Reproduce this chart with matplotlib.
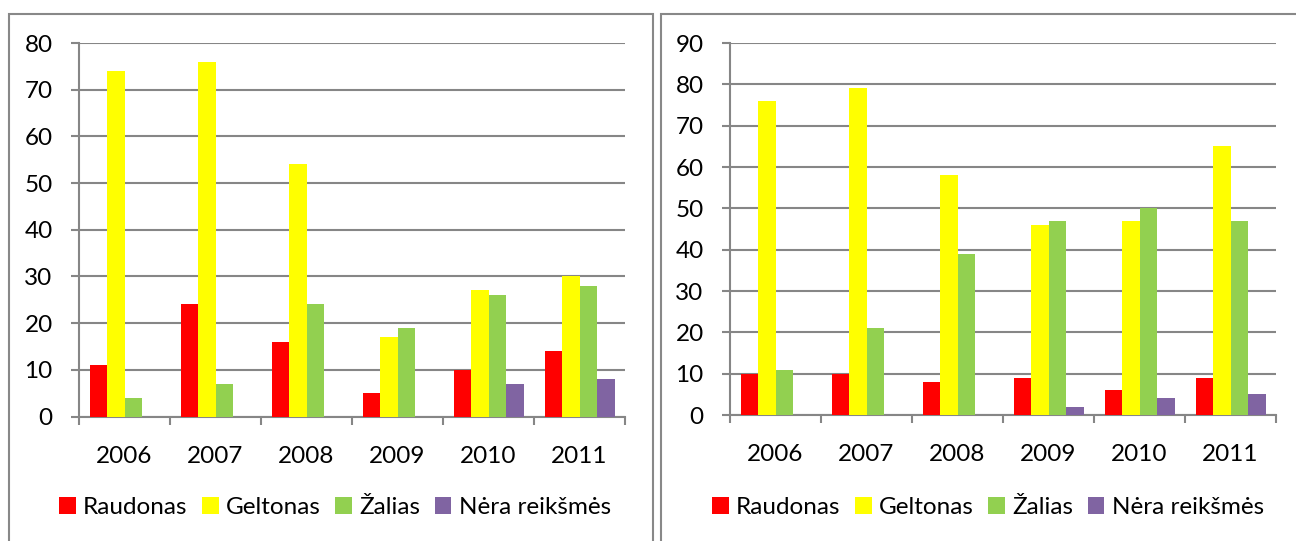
import matplotlib.pyplot as plt
from matplotlib.patches import Rectangle
import numpy as np

plt.rcParams['font.family'] = ['Lato', 'DejaVu Sans']

years = ['2006', '2007', '2008', '2009', '2010', '2011']
series_names = ['Raudonas', 'Geltonas', 'Žalias', 'Nėra reikšmės']
series_colors = ['#FF0000', '#FFFF00', '#92D050', '#8064A2']

# left chart
left_raudonas = [11, 24, 16, 5, 10, 14]
left_geltonas = [74, 76, 54, 17, 27, 30]
left_zalias = [4, 7, 24, 19, 26, 28]
left_nera = [0, 0, 0, 0, 7, 8]

# right chart
right_raudonas = [10, 10, 8, 9, 6, 9]
right_geltonas = [76, 79, 58, 46, 47, 65]
right_zalias = [11, 21, 39, 47, 50, 47]
right_nera = [0, 0, 0, 2, 4, 5]

GRID = '#868686'
FS = 17.5


def bar_chart(fig, rect, series, ymax, legend_x):
    ax = fig.add_axes(rect)
    x = np.arange(len(years))
    width = 1 / (len(series) + 1.2)
    offsets = (np.arange(len(series)) - (len(series) - 1) / 2) * width
    handles = []
    for vals, off, col, name in zip(series, offsets, series_colors, series_names):
        b = ax.bar(x + off, vals, width=width, color=col, label=name, zorder=3)
        handles.append(b)

    ax.set_xlim(-0.5, len(years) - 0.5)
    ax.set_ylim(0, ymax)
    ax.set_yticks(np.arange(0, ymax + 1, 10))
    ax.set_xticks(x)
    ax.set_xticklabels(years)
    ax.set_xticks(np.arange(-0.5, len(years)), minor=True)

    ax.yaxis.grid(True, color=GRID, linewidth=1.5, zorder=0)
    ax.set_axisbelow(True)
    for side in ['top', 'right']:
        ax.spines[side].set_visible(False)
    for side in ['left', 'bottom']:
        ax.spines[side].set_color(GRID)
        ax.spines[side].set_linewidth(1.5)

    ax.tick_params(axis='y', length=6, width=1.5, color=GRID, labelsize=FS, pad=13)
    ax.tick_params(axis='x', which='major', length=0, labelsize=FS, pad=21)
    ax.tick_params(axis='x', which='minor', length=6, width=1.5, color=GRID)

    fig.legend(handles, series_names, loc='center', bbox_to_anchor=(legend_x, 0.062),
               ncol=4, frameon=False, fontsize=FS, handlelength=0.68, handleheight=0.68,
               handletextpad=0.3, columnspacing=0.6)
    return ax


fig = plt.figure(figsize=(12.96, 5.41), dpi=100)

bar_chart(fig, [0.061, 0.2301, 0.4213, 0.6904],
          [left_raudonas, left_geltonas, left_zalias, left_nera], 80, 335 / 1296)
bar_chart(fig, [0.5633, 0.2329, 0.4213, 0.6876],
          [right_raudonas, right_geltonas, right_zalias, right_nera], 90, 988 / 1296)

# chart frames
for x0, x1 in [(9, 653), (661, 1300)]:
    fig.patches.append(Rectangle((x0 / 1296, -0.05), (x1 - x0) / 1296, (541 - 14) / 541 + 0.05,
                                 transform=fig.transFigure, fill=False,
                                 edgecolor='#888888', linewidth=1.5))

fig.savefig('out.png', dpi=100)
